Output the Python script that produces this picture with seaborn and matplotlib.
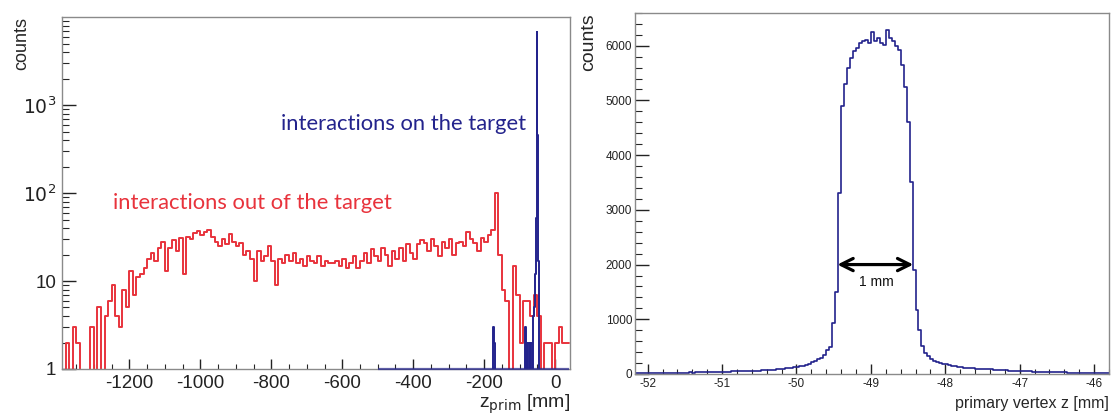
import numpy as np
import pandas as pd
import matplotlib
matplotlib.use("Agg")
import matplotlib.pyplot as plt
from matplotlib.ticker import MultipleLocator, FixedLocator, FixedFormatter, LogLocator, NullFormatter
import seaborn as sns

# --- left panel: z_prim over the whole beam line (10 mm bins from -1390 mm) ---
zprim_lo, zprim_step = -1390, 10
out_counts = [
    0, 2, 0, 3, 2, 0, 0, 0, 3, 0,
    5, 0, 4, 6, 9, 4, 3, 8, 5, 13,
    7, 11, 12, 14, 18, 21, 17, 24, 28, 13,
    24, 29, 22, 31, 12, 32, 30, 35, 37, 33,
    36, 38, 32, 28, 25, 30, 26, 34, 28, 25,
    27, 20, 22, 18, 10, 22, 17, 19, 25, 17,
    9, 18, 16, 20, 17, 21, 16, 18, 15, 19,
    17, 16, 19, 15, 17, 16, 16, 17, 15, 18,
    14, 16, 19, 14, 17, 21, 16, 23, 19, 17,
    24, 20, 15, 22, 18, 24, 17, 26, 21, 18,
    26, 29, 27, 22, 30, 25, 19, 28, 24, 30,
    20, 27, 28, 25, 36, 30, 27, 22, 31, 28,
    33, 38, 100, 20, 8, 6, 0, 15, 7, 2,
    6, 6, 4, 7, 4, 0, 2, 2, 0, 2,
    3, 2, 2,
]

# interactions on the target (2 mm bins, -500 .. 40 mm), non-empty bins only
on_z = [-173, -171, -83, -79, -75, -73, -69, -67, -65, -61, -59, -57, -55, -53, -51, -49, -47, -45]
on_counts = [3, 2, 3, 2, 2, 2, 2, 2, 2, 4, 5, 7, 12, 52, 6800, 460, 17, 4]
on_lo, on_hi, on_step = -500, 40, 2

# --- right panel: primary vertex z near the target (0.04 mm bins from -52.2 mm) ---
vtx_lo, vtx_step = -52.2, 0.04
vtx_counts = [
    # -52.2 .. -51.0
    12, 14, 13, 16, 15, 14, 17, 16, 19, 18, 20, 19, 22, 21, 23,
    25, 22, 26, 24, 28, 27, 30, 29, 32, 31, 34, 36, 35, 38, 40,
    # -51.0 .. -50.2
    41, 44, 42, 46, 48, 47, 51, 54, 52, 57, 60, 62, 61, 66, 70, 72, 76, 80, 86, 92,
    # -50.2 .. -49.6
    97, 103, 108, 112, 120, 128, 140, 152, 168, 190, 215, 245, 265, 300, 350,
    # -49.6 .. -48.0 (peak)
    430, 500, 930, 1500, 3300, 4900, 5300, 5600, 5770, 5900,
    5950, 6050, 6080, 6100, 6050, 6250, 6080, 6150, 6050, 6020,
    6280, 6150, 6080, 6000, 5930, 5650, 5250, 4600, 3500, 1900,
    1170, 800, 520, 390, 320, 270, 235, 215, 200, 190,
    # -48.0 .. -45.8
    180, 170, 152, 140, 132, 125, 118, 112, 108, 104,
    98, 95, 92, 88, 86, 84, 80, 76, 72, 70,
    66, 62, 60, 58, 55, 53, 51, 49, 47, 45,
    42, 41, 40, 37, 36, 34, 33, 31, 30, 29,
    28, 27, 25, 24, 24, 23, 22, 21, 20, 20,
    19, 18, 18, 17, 16,
]

RED = "#e8333c"
NAVY = "#23238c"
FRAME = "#8a8a8a"


def binned_frame(lo, step, counts):
    """Bin centres + counts as a DataFrame, plus the bin edges."""
    edges = lo + step * np.arange(len(counts) + 1)
    df = pd.DataFrame({"z": edges[:-1] + step / 2, "n": counts})
    return df, edges


sns.set_theme(style="ticks")
plt.rcParams["font.family"] = ["Liberation Sans", "DejaVu Sans"]
plt.rcParams["axes.unicode_minus"] = False

fig = plt.figure(figsize=(11.15, 4.16), dpi=100)
ax1 = fig.add_axes([0.0556, 0.113, 0.4556, 0.846])
ax2 = fig.add_axes([0.5695, 0.101, 0.4251, 0.868])

# left: out-of-target (red) and on-target (blue)
out_df, out_edges = binned_frame(zprim_lo, zprim_step, out_counts)
sns.histplot(data=out_df, x="z", weights="n", bins=list(out_edges), element="step",
             fill=False, color=RED, linewidth=1.4, ax=ax1)
on_df = pd.DataFrame({"z": on_z, "n": on_counts})
on_edges = np.arange(on_lo, on_hi + on_step, on_step)
sns.histplot(data=on_df, x="z", weights="n", bins=list(on_edges), element="step",
             fill=False, color=NAVY, linewidth=1.4, ax=ax1)
ax1.set_yscale("log")
ax1.set_ylim(1, 1e4)
ax1.set_xlim(-1390, 42)
# empty bins of the on-target histogram sit on the lower frame (ROOT style)
ax1.hlines(1, on_lo, on_hi, color=NAVY, linewidth=1.6, alpha=0.7, clip_on=False, zorder=3)

ax1.yaxis.set_major_locator(FixedLocator([1, 10, 100, 1000]))
ax1.yaxis.set_major_formatter(FixedFormatter(["1", "10", "$10^2$", "$10^3$"]))
ax1.yaxis.set_minor_locator(LogLocator(base=10, subs=np.arange(2, 10)))
ax1.yaxis.set_minor_formatter(NullFormatter())
ax1.xaxis.set_major_locator(MultipleLocator(200))
ax1.xaxis.set_minor_locator(MultipleLocator(50))

ax1.text(0.10, 0.472, "interactions out of the target", transform=ax1.transAxes,
         color=RED, fontsize=15.8, family=["Lato", "DejaVu Sans"], va="center", ha="left")
ax1.text(0.431, 0.696, "interactions on the target", transform=ax1.transAxes,
         color=NAVY, fontsize=15.8, family=["Lato", "DejaVu Sans"], va="center", ha="left")

ax1.set_ylabel("counts", fontsize=13, loc="top")
ax1.yaxis.set_label_coords(-0.063, 1.0)
ax1.set_xlabel(r"z$_{\mathrm{prim}}$ [mm]", fontsize=14, loc="right")
ax1.xaxis.set_label_coords(1.0, -0.068)
ax1.tick_params(axis="both", which="major", labelsize=13.5, colors="#222222")
ax1.tick_params(axis="y", which="major", direction="in", length=10, width=1, pad=4)
ax1.tick_params(axis="y", which="minor", direction="in", length=5, width=0.8)
ax1.tick_params(axis="x", which="major", direction="in", length=7, width=1, pad=4)
ax1.tick_params(axis="x", which="minor", direction="in", length=3.5, width=0.8)

# right: zoom on the target
vtx_df, vtx_edges = binned_frame(vtx_lo, vtx_step, vtx_counts)
sns.histplot(data=vtx_df, x="z", weights="n", bins=list(vtx_edges), element="step",
             fill=False, color=NAVY, linewidth=1.2, ax=ax2)
ax2.set_xlim(-52.17, -45.8)
ax2.set_ylim(0, 6600)
ax2.xaxis.set_major_locator(MultipleLocator(1))
ax2.xaxis.set_minor_locator(MultipleLocator(0.2))
ax2.yaxis.set_major_locator(MultipleLocator(1000))
ax2.yaxis.set_minor_locator(MultipleLocator(200))

ax2.annotate("", xy=(-48.43, 2000), xytext=(-49.45, 2000),
             arrowprops=dict(arrowstyle="<->", color="black", lw=2.3, mutation_scale=22,
                             shrinkA=0, shrinkB=0))
ax2.text(-48.93, 1690, "1 mm", fontsize=10, ha="center", va="center", color="#111111")

ax2.set_ylabel("counts", fontsize=14, loc="top")
ax2.yaxis.set_label_coords(-0.080, 1.0)
ax2.set_xlabel("primary vertex z [mm]", fontsize=11.5, loc="right")
ax2.xaxis.set_label_coords(1.0, -0.062)
ax2.tick_params(axis="both", which="major", labelsize=8.5, colors="#222222")
ax2.tick_params(axis="y", which="major", direction="in", length=10, width=1, pad=2)
ax2.tick_params(axis="y", which="minor", direction="in", length=5, width=0.8)
ax2.tick_params(axis="x", which="major", direction="in", length=7, width=1, pad=3)
ax2.tick_params(axis="x", which="minor", direction="in", length=3.5, width=0.8)

for ax in (ax1, ax2):
    for side in ("left", "right", "top", "bottom"):
        ax.spines[side].set_visible(True)
        ax.spines[side].set_color(FRAME)
        ax.spines[side].set_linewidth(1.0)
    ax.tick_params(which="both", top=False, right=False)
    ax.grid(False)

fig.savefig("out.png", dpi=100, facecolor="white")
